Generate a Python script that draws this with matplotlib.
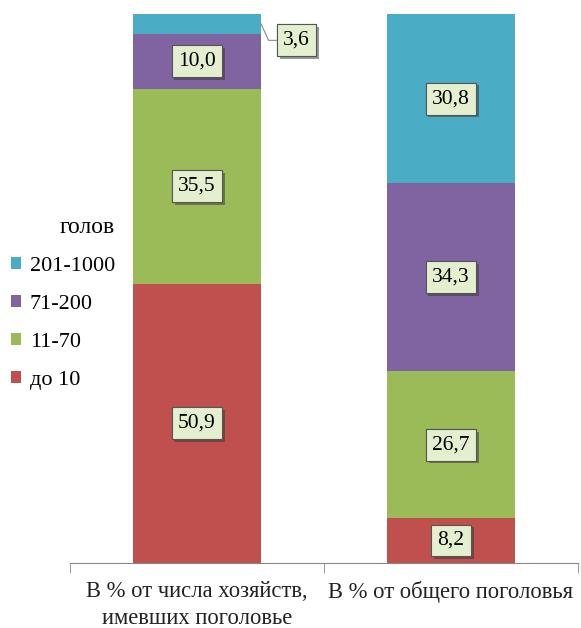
import matplotlib
matplotlib.use("Agg")
import matplotlib.pyplot as plt
import matplotlib.patheffects as pe
import numpy as np

plt.rcParams["font.family"] = ["Liberation Serif", "DejaVu Serif"]

categories = ["В % от числа хозяйств,\nимевших поголовье", "В % от общего поголовья"]
groups = ["до 10", "11-70", "71-200", "201-1000"]
colors = ["#c0504d", "#9bbb59", "#8064a2", "#4bacc6"]
values = {
    "до 10": [50.9, 8.2],
    "11-70": [35.5, 26.7],
    "71-200": [10.0, 34.3],
    "201-1000": [3.6, 30.8],
}

fig = plt.figure(figsize=(5.81, 6.28), dpi=100)
ax = fig.add_axes([0.1205, 0.1035, 0.8743, 0.8742])

x = np.arange(len(categories))
width = 0.504
bottom = np.zeros(len(categories))
box = dict(boxstyle="square,pad=0.3", fc="#e4efcf", ec="#555555", lw=0.8)
shadow = [pe.withSimplePatchShadow(offset=(2, -2), shadow_rgbFace="#333333", alpha=0.5), pe.Normal()]

handles = []
for name, col in zip(groups, colors):
    vals = np.array(values[name])
    bars = ax.bar(x, vals, width, bottom=bottom, color=col, edgecolor="none")
    handles.append(bars)
    for i, v in enumerate(vals):
        mid = bottom[i] + v / 2
        label = f"{v:.1f}".replace(".", ",")
        if v < 5:
            # small segment: label outside with leader line
            x0 = x[i] + width / 2
            tx = x0 + 0.14
            ty = mid - 3.0
            ax.plot([x0, x0 + 0.03, tx - 0.08], [mid, ty, ty], color="#888888", lw=0.8,
                    clip_on=False)
            t = ax.text(tx, ty, label, ha="center", va="center", fontsize=15.5, bbox=box)
        else:
            t = ax.text(x[i], mid, label, ha="center", va="center", fontsize=15.5, bbox=box)
        t.get_bbox_patch().set_path_effects(shadow)
    bottom += vals

ax.set_xlim(-0.5, 1.5)
ax.set_ylim(0, 100)
ax.set_yticks([])
for s in ["left", "right", "top"]:
    ax.spines[s].set_visible(False)
ax.spines["bottom"].set_color("#888888")
ax.set_xticks(x)
ax.set_xticklabels(categories, fontsize=16.3, linespacing=1.4)
ax.tick_params(axis="x", which="major", length=0, pad=13, colors="#222222")
ax.set_xticks([-0.5, 0.5, 1.5], minor=True)
ax.tick_params(axis="x", which="minor", length=7, color="#888888", direction="out")

leg = fig.legend(handles[::-1], groups[::-1], title="голов", loc="center left",
                 bbox_to_anchor=(-0.012, 0.517), frameon=False, fontsize=16,
                 title_fontsize=17, handlelength=0.45, handleheight=0.45,
                 handletextpad=0.4, labelspacing=0.85, borderpad=0.3,
                 alignment="right")

fig.savefig("out.png", dpi=100)
